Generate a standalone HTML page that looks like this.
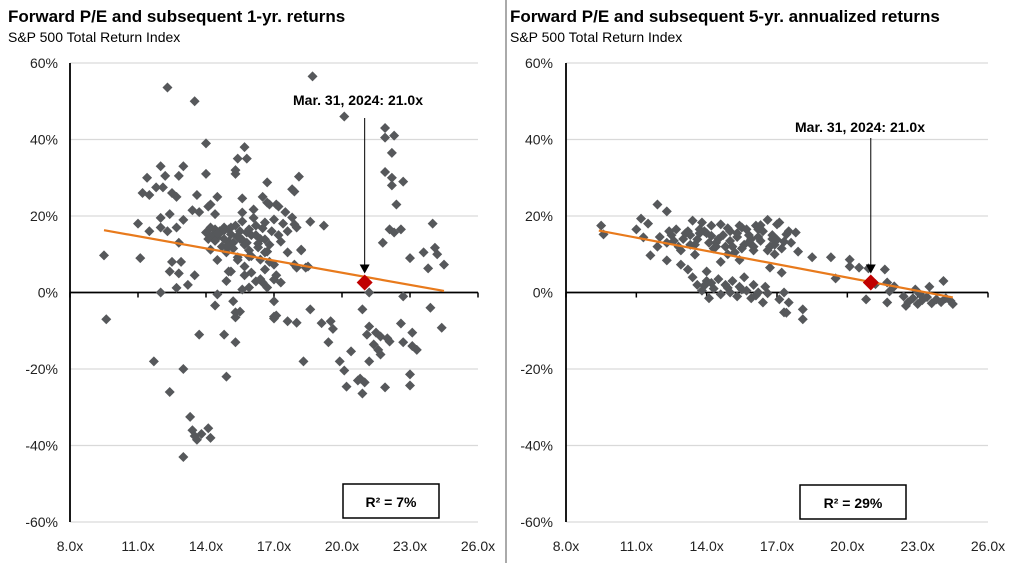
<!DOCTYPE html>
<html><head><meta charset="utf-8"><style>
html,body{margin:0;padding:0;background:#fff;width:1024px;height:563px;overflow:hidden}
svg{display:block;font-family:"Liberation Sans",Arial,sans-serif}
</style></head><body>
<svg id="c" width="1024" height="563" viewBox="0 0 1024 563">
<text x="8" y="22" font-size="17" font-weight="bold" fill="#000">Forward P/E and subsequent 1-yr. returns</text>
<text x="8" y="42" font-size="14" fill="#000">S&amp;P 500 Total Return Index</text>
<text x="510" y="22" font-size="17" font-weight="bold" fill="#000">Forward P/E and subsequent 5-yr. annualized returns</text>
<text x="510" y="42" font-size="14" fill="#000">S&amp;P 500 Total Return Index</text>
<line x1="506" y1="0" x2="506" y2="563" stroke="#555" stroke-width="1"/>
</svg>
<script>
const yTicks=[60,40,20,0,-20,-40,-60];
const xTicks=[8,11,14,17,20,23,26];
const pe1=[9.6,9.5,11.1,11.0,11.5,11.7,11.2,11.5,11.4,11.8,12.0,12.0,12.0,12.0,12.1,12.2,12.3,12.3,12.4,12.4,12.4,12.5,12.5,12.7,12.7,12.7,12.8,12.8,12.8,12.9,13.0,13.0,13.0,13.0,13.2,13.3,13.4,13.4,13.5,13.5,13.5,13.6,13.6,13.7,13.7,13.8,14.0,14.0,14.0,14.1,14.1,14.2,14.2,14.2,14.4,14.4,14.4,14.5,14.5,14.5,14.5,14.8,14.8,14.9,14.9,15.0,15.0,15.1,15.1,15.2,15.3,15.3,15.3,15.3,15.3,15.4,15.4,15.4,15.4,15.5,15.6,15.6,15.6,15.6,15.7,15.7,15.8,15.8,15.9,15.9,16.0,16.1,16.2,16.3,16.4,16.5,16.5,16.6,16.6,16.6,16.7,16.7,16.7,16.7,16.8,17.0,17.0,17.0,17.0,17.0,17.0,17.1,17.1,17.2,17.3,17.3,17.5,17.6,17.6,17.8,17.8,17.9,17.9,17.9,18.0,18.0,18.1,18.2,18.2,18.3,18.4,18.5,18.6,18.6,18.7,19.1,19.2,19.4,19.5,19.6,19.9,20.1,20.1,20.2,20.4,20.7,20.8,20.9,20.9,21.0,21.1,21.2,21.2,21.2,21.4,21.5,21.6,21.7,21.7,21.8,21.9,21.9,21.9,21.9,22.0,22.1,22.1,22.2,22.2,22.2,22.3,22.3,22.4,22.6,22.6,22.7,22.7,22.7,23.0,23.0,23.0,23.1,23.1,23.3,23.6,23.8,23.9,24.0,24.1,24.2,24.4,24.5,14.3,14.6,14.8,15.0,15.2,15.5,15.7,16.0,16.2,16.4,16.9,17.2,17.4,16.8,15.9,14.7,15.3,16.1,17.6,18.0,14.1,14.4,14.6,14.9,15.1,15.4,15.6,15.9,16.3,16.5,14.2,14.5,14.8,15.2,15.5,15.8,16.2,16.6,17.1,16.0,15.0,16.4,16.8,15.7,14.9];
const ret1=[-7,9.7,9,18,16,-18,26,25.5,30,27.5,33,19.5,17,0,27.5,30.5,53.6,16,20.5,-26,5.5,26,8,25,17,1.2,30.5,13,5,8,33,19,-20,-43,2,-32.5,21.5,-36,50,4.5,-37.5,25.5,-38.5,21,-11,-37,39,31,15.7,22.5,-35.5,-38,23,11.2,20.5,16.5,-3.4,25,8.5,14.4,-0.5,17,-11,10.5,-22,13.3,5.5,15.2,5.5,-2.3,31,32,-5.2,-6.5,-13,35,14.4,9.2,8.5,-5,24.6,20.9,18.6,0.8,38,6.8,35,15.7,9.4,1.3,5.2,21.7,2.9,11.8,8.6,25,2.6,18.3,13.9,6,28.8,23.5,10.7,1.3,23,19.1,7.3,3.4,-2.3,-6.8,-6.3,23,-6,22.5,13.3,2.6,21,10.5,-7.5,27,19.6,26.4,17.8,7.3,6.5,-7.9,30.3,11.2,11,-18,6.5,6.8,18.5,-4.4,56.5,-8,17.5,-13,-7.5,-9.5,-18,46,-20.4,-24.6,-15.4,-23,-22.5,-26.4,-4.4,-23.5,-11,0,-8.9,-18,-13.6,-10.5,-15,-16.2,-11.5,13,43,40.5,31.5,-24.8,-12,16.5,-12.8,36.5,30,28,41,15.7,23,16.5,-8.1,29,-1,-13,9,-21.4,-24.3,-10.5,-14,-15,10.5,6.3,-4,18,11.7,10,-9.2,7.3,15,16,14,16.5,13,16,12.5,15,17.5,14,16,15,18,12.5,11,12,17.5,19.5,16,17,14,13.5,15.5,12,17,14.8,13.8,16.5,12.8,16.8,17,15.5,16.2,11.5,14,13,15,10.5,4.5,9.5,12,3.5,8,4.5,3];
const pe2=[9.5,9.6,11.0,11.2,11.3,11.5,11.6,11.9,11.9,12.3,12.3,12.3,12.5,12.7,12.8,12.9,13.0,13.2,13.2,13.4,13.5,13.5,13.6,13.8,14.0,14.0,14.2,14.3,14.5,14.6,14.8,15.0,15.2,15.3,15.5,15.6,15.8,16.0,16.1,16.3,16.4,16.6,16.7,16.8,17.0,16.9,17.1,17.3,17.5,17.8,17.9,15.4,14.6,18.5,19.3,19.5,20.1,20.1,20.5,20.9,21.6,20.8,21.7,22.0,21.8,21.7,13.4,13.6,13.8,14.0,14.1,14.3,14.5,14.6,14.8,15.0,15.1,15.3,15.4,15.6,15.7,15.9,16.0,16.2,16.4,16.5,16.7,17.2,17.3,17.1,17.5,17.3,17.4,18.1,18.1,22.4,22.6,22.8,23.0,23.2,23.4,23.6,23.8,24.0,24.2,24.4,24.5,22.5,23.1,12.9,13.3,14.4,14.9,15.7,16.2,16.9,17.6,13.9,15.1,12.0,12.6,13.1,13.7,14.1,14.7,15.0,15.5,15.9,16.2,16.6,17.0,17.4,12.4,13.3,14.4,15.3,16.0,16.8,17.2,13.7,14.2,14.9,15.4,15.8,16.3,14.2,14.9,15.5,16.1,13.9,16.6,21.2,22.9,23.5,24.1];
const ret2=[17.5,15.2,16.5,19.3,14.4,18,9.7,23,12,21.2,8.4,13,15,16.5,12,7.3,14,6,16,18.8,9.9,12.5,13.9,18.3,5.5,15.5,17.5,11.5,14,17.8,12,16,10.5,14.5,17,12.5,15,11,17.5,13.5,16,19,12,15,17.8,10,18.3,13.3,16,15.7,10.7,8.5,8,9.2,9.2,3.7,8.6,6.8,6.5,6.3,6,-1.8,2.6,1.6,0.3,-2.6,4,2,0.5,3,-1.5,1,3.5,-0.5,2,0,3,-1,1.5,4,0.5,-1.5,2,0,-2.6,1.5,6.5,5.2,0,-1.8,-2.6,-5.2,-5.3,-4.4,-7,-1,-2.5,-1.5,-3,-2,-1.2,-2.8,-1.8,-2.5,-1.5,-2.2,-3,-3.5,-0.5,11,15,13,10,16.5,14.5,12.5,13,16,12,14.5,13.5,15.5,16.5,13,15,13.5,11.5,14,16.5,11,13.8,15.2,16,12.5,12,15.5,12,14,11.5,15.5,14.8,16.8,17.5,13.2,17.6,2.5,1.2,0.8,-0.8,1.8,-0.2,2.2,0.8,1.5,3,1,-1,-2,-1.5];
const trend1PE=[9.5,24.5];
const trend1Ret=[16.3,0.4];
const trend2PE=[9.4,24.5];
const trend2Ret=[16.2,-1.3];
const current={pe:21.0,ret1:2.6,ret2:2.6};
const r2Labels=["R²  = 7%","R²  = 29%"];

const svg=document.getElementById('c');
const NS="http://www.w3.org/2000/svg";
function mk(tag,attrs,parent){const e=document.createElementNS(NS,tag);for(const k in attrs)e.setAttribute(k,attrs[k]);(parent||svg).appendChild(e);return e;}

const panels=[
 {x0:70,x1:478,pe:pe1,ret:ret1,tpe:trend1PE,tret:trend1Ret,labelX:58,annX:293,annY:105,arrTop:118,box:[343,484,96,34],p:'left'},
 {x0:566,x1:988,pe:pe2,ret:ret2,tpe:trend2PE,tret:trend2Ret,labelX:553,annX:795,annY:132,arrTop:138,box:[800,485,106,34],p:'right'}
];
const yTop=63,yBot=522;
panels.forEach((P,pi)=>{
 const xS=v=>P.x0+(v-8)/(26-8)*(P.x1-P.x0);
 const yS=v=>yTop+(60-v)/120*(yBot-yTop);
 const g=mk('g',{});
 
 
 yTicks.forEach(t=>{
  if(t!==0){const l=mk('line',{x1:P.x0,x2:P.x1,y1:yS(t),y2:yS(t),stroke:'#d9d9d9','stroke-width':1.2},g);
  
  }
  const tx=mk('text',{x:P.labelX,y:yS(t)+5,'text-anchor':'end','font-size':14,fill:'#222'},g);
  tx.textContent=t+'%';
  
  
 });
 xTicks.forEach(t=>{
  const tx=mk('text',{x:xS(t),y:551,'text-anchor':'middle','font-size':14,fill:'#222'},g);
  tx.textContent=t.toFixed(1)+'x';
  
  
  const tk=mk('line',{x1:xS(t),x2:xS(t),y1:yS(0),y2:yS(0)+5,stroke:'#000','stroke-width':1.5},g);
  
  
 });
 const ya=mk('line',{x1:P.x0,x2:P.x0,y1:yTop,y2:yBot,stroke:'#000','stroke-width':1.8},g);
 
 
 const xa=mk('line',{x1:P.x0,x2:P.x1,y1:yS(0),y2:yS(0),stroke:'#000','stroke-width':1.8},g);
 
 
 for(let i=0;i<P.pe.length;i++){
  const cx=xS(P.pe[i]),cy=yS(P.ret[i]),s=5;
  const d=mk('polygon',{points:`${cx},${cy-s} ${cx+s},${cy} ${cx},${cy+s} ${cx-s},${cy}`,fill:'#56585b'},g);
  
  
 }
 const tl=mk('line',{x1:xS(P.tpe[0]),y1:yS(P.tret[0]),x2:xS(P.tpe[1]),y2:yS(P.tret[1]),stroke:'#e87a1c','stroke-width':2.2},g);
 
 
 const cr=pi===0?current.ret1:current.ret2;
 const ax=xS(current.pe),ay=yS(cr);
 const ar=mk('line',{x1:ax,x2:ax,y1:P.arrTop,y2:ay-17,stroke:'#000','stroke-width':1},g);
 
 
 const ah=mk('polygon',{points:`${ax-5},${ay-18} ${ax+5},${ay-18} ${ax},${ay-9}`,fill:'#000'},g);
 
 
 const s=8;
 const rd=mk('polygon',{points:`${ax},${ay-s} ${ax+s},${ay} ${ax},${ay+s} ${ax-s},${ay}`,fill:'#c00000'},g);
 
 
 const at=mk('text',{x:P.annX,y:P.annY,'font-size':14,'font-weight':'bold',fill:'#000'},g);
 at.textContent='Mar. 31, 2024:  21.0x';
 
 
 const b=P.box;
 const br=mk('rect',{x:b[0],y:b[1],width:b[2],height:b[3],fill:'#fff',stroke:'#000','stroke-width':1.5},g);
 
 
 const bt=mk('text',{x:b[0]+b[2]/2,y:b[1]+23,'text-anchor':'middle','font-size':14,'font-weight':'bold',fill:'#000'},g);
 bt.textContent=r2Labels[pi];
 
 
});
</script>
</body></html>
